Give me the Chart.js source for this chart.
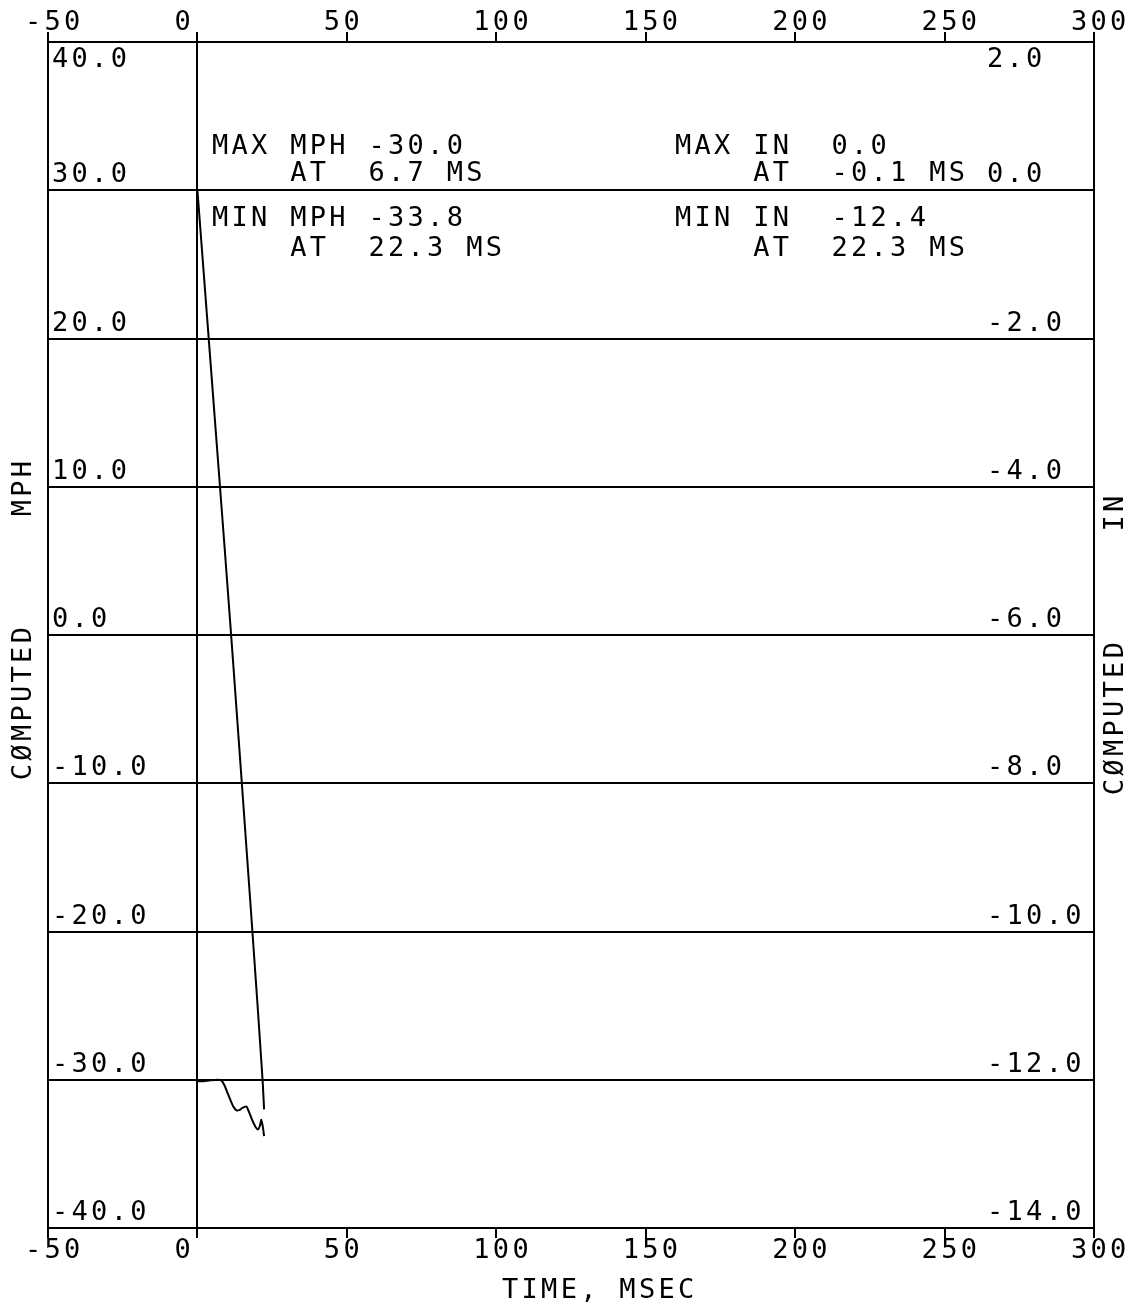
<!DOCTYPE html>
<html>
<head>
<meta charset="utf-8">
<script src="https://cdn.jsdelivr.net/npm/chart.js@4.4.0/dist/chart.umd.min.js"></script>
<style>
  body { margin: 0; background: #fff; }
  canvas { display: block; }
</style>
</head>
<body>
<canvas id="grafik" width="1136" height="1306"></canvas>
<script>
// data
const waktu = [0, 2, 4, 6.7, 8, 9, 10, 11, 12, 13, 14, 15, 16.4, 17.5, 18.5, 19.5, 20.3, 20.9, 21.4, 21.9, 22.3];
const mph = [-30.1, -30.1, -30.05, -30.0, -30.05, -30.35, -30.85, -31.35, -31.8, -32.05, -32.05, -31.9, -31.8, -32.3, -32.8, -33.2, -33.35, -33.1, -32.7, -33.2, -33.8];
const inci = [0, -1.06, -2.12, -3.55, -4.24, -4.77, -5.31, -5.85, -6.4, -6.96, -7.52, -8.08, -8.87, -9.49, -10.06, -10.64, -11.1, -11.46, -11.76, -12.07, -12.4];

const xTicks = [-50, 0, 50, 100, 150, 200, 250, 300];
const mphTicks = [40, 30, 20, 10, 0, -10, -20, -30, -40];
const inTicks = [2, 0, -2, -4, -6, -8, -10, -12, -14];

const catatanMph = ["MAX MPH -30.0", "    AT  6.7 MS", "MIN MPH -33.8", "    AT  22.3 MS"];
const catatanIn = ["MAX IN  0.0", "    AT  -0.1 MS", "MIN IN  -12.4", "    AT  22.3 MS"];

const FONT = '27px "DejaVu Sans Mono"';
const SPASI = "3.3px";

const teksPlugin = {
  id: "teks",
  afterDraw(chart) {
    const ctx = chart.ctx;
    const area = chart.chartArea;
    const sx = chart.scales.x;
    const sy = chart.scales.y;
    const sy2 = chart.scales.y2;
    ctx.save();
    ctx.fillStyle = "#000";
    ctx.font = FONT;
    ctx.letterSpacing = SPASI;
    ctx.textAlign = "left";
    ctx.textBaseline = "alphabetic";

    // time labels, top and bottom
    xTicks.forEach(v => {
      const px = sx.getPixelForValue(v) - 23;
      ctx.fillText(String(v), px, 30);
      ctx.fillText(String(v), px, 1258);
    });

    // mph labels inside left edge
    mphTicks.forEach(v => {
      const py = sy.getPixelForValue(v);
      const base = v === 40 ? area.top + 25 : py - 8;
      ctx.fillText(v.toFixed(1), area.left + 4, base);
    });

    // inch labels inside right edge
    inTicks.forEach(v => {
      const py = sy2.getPixelForValue(v);
      const base = v === 2 ? area.top + 25 : py - 8;
      ctx.fillText(v.toFixed(1), 987, base);
    });

    // max / min notes
    const baris = [154, 181, 226, 256];
    catatanMph.forEach((s, i) => ctx.fillText(s, 212, baris[i]));
    catatanIn.forEach((s, i) => ctx.fillText(s, 675, baris[i]));

    // axis titles
    ctx.fillText("TIME, MSEC", 502, 1298);
    ctx.textAlign = "center";
    ctx.textBaseline = "middle";
    const tegak = (s, x, y) => {
      ctx.save();
      ctx.translate(x, y);
      ctx.rotate(-Math.PI / 2);
      ctx.fillText(s, 0, 0);
      ctx.restore();
    };
    tegak("CØMPUTED", 24, 702);
    tegak("MPH", 24, 487);
    tegak("CØMPUTED", 1116, 717);
    tegak("IN", 1116, 512);
    ctx.restore();
  }
};

const ctx = document.getElementById("grafik").getContext("2d");
new Chart(ctx, {
  type: "line",
  data: {
    datasets: [
      {
        label: "MPH",
        data: waktu.map((t, i) => ({ x: t, y: mph[i] })),
        yAxisID: "y",
        borderColor: "#000",
        borderWidth: 2,
        pointRadius: 0,
        tension: 0.2
      },
      {
        label: "IN",
        data: waktu.map((t, i) => ({ x: t, y: inci[i] })),
        yAxisID: "y2",
        borderColor: "#000",
        borderWidth: 2,
        pointRadius: 0,
        tension: 0
      }
    ]
  },
  options: {
    responsive: false,
    animation: false,
    layout: { padding: { top: 32, bottom: 68, left: 48, right: 42 } },
    plugins: { legend: { display: false }, tooltip: { enabled: false } },
    scales: {
      x: {
        type: "linear",
        position: "bottom",
        min: -50,
        max: 300,
        ticks: { display: false, stepSize: 50 },
        grid: {
          color: c => (c.tick && c.tick.value === 0 ? "#000" : "rgba(0,0,0,0)"),
          tickColor: "#000",
          tickLength: 10,
          lineWidth: 2
        },
        border: { color: "#000", width: 2 }
      },
      x2: {
        type: "linear",
        position: "top",
        min: -50,
        max: 300,
        ticks: { display: false, stepSize: 50 },
        grid: { drawOnChartArea: false, tickColor: "#000", tickLength: 10, lineWidth: 2 },
        border: { color: "#000", width: 2 }
      },
      y: {
        position: "left",
        min: -40,
        max: 40,
        ticks: { display: false, stepSize: 10 },
        grid: { color: "#000", lineWidth: 2, drawTicks: false },
        border: { color: "#000", width: 2 }
      },
      y2: {
        position: "right",
        min: -14,
        max: 2,
        ticks: { display: false, stepSize: 2 },
        grid: { drawOnChartArea: false, drawTicks: false },
        border: { color: "#000", width: 2 }
      }
    }
  },
  plugins: [teksPlugin]
});
</script>
</body>
</html>
